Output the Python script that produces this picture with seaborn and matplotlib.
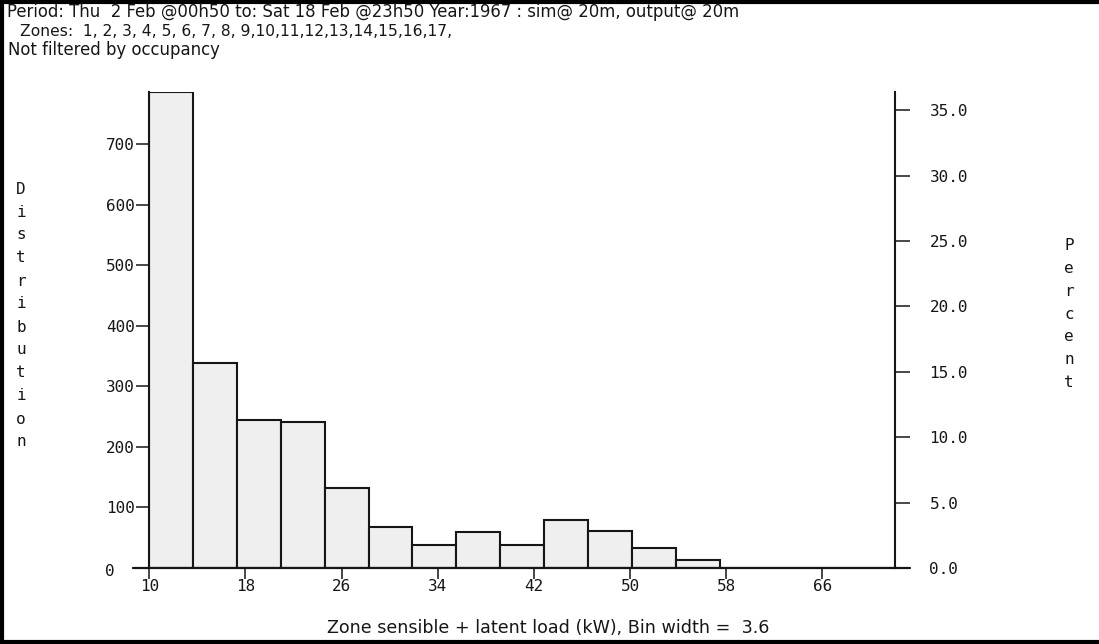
import numpy as np
import pandas as pd
import matplotlib
matplotlib.use("Agg")
import matplotlib.pyplot as plt
import seaborn as sns
from matplotlib.transforms import ScaledTranslation
from matplotlib.lines import Line2D

# ---------------- data ----------------
counts = [787, 339, 244, 241, 132, 67, 38, 59, 38, 79, 61, 33, 14, 0, 0, 0, 0]
bin_start = 10.0
bin_width = 3.65
bin_width_label = "3.6"
total_count = 2160
x_ticks = [10, 18, 26, 34, 42, 50, 58, 66]
y_ticks = [0, 100, 200, 300, 400, 500, 600, 700]
pct_ticks = [0, 5, 10, 15, 20, 25, 30, 35]
header_lines = [
    "Period: Thu  2 Feb @00h50 to: Sat 18 Feb @23h50 Year:1967 : sim@ 20m, output@ 20m",
    "Zones:  1, 2, 3, 4, 5, 6, 7, 8, 9,10,11,12,13,14,15,16,17,",
    "Not filtered by occupancy",
]
x_label = "Zone sensible + latent load (kW), Bin width =  " + bin_width_label
left_label = "Distribution"
right_label = "Percent"

# ---------------- style ----------------
sns.set_style("white")
plt.rcParams["font.family"] = ["DejaVu Sans Mono", "DejaVu Sans"]
FS = 11.5
INK = "#161616"
FILL = "#efefef"
SANS = ["DejaVu Sans"]

W, H = 1099, 644
fig = plt.figure(figsize=(W / 100, H / 100), dpi=100)
fig.patch.set_facecolor("white")

ax_l, ax_r, ax_b, ax_t = 149.3, 895.0, 568.0, 91.5
ax = fig.add_axes([ax_l / W, (H - ax_b) / H, (ax_r - ax_l) / W, (ax_b - ax_t) / H])

edges = [bin_start + bin_width * i for i in range(len(counts) + 1)]
mids = [(edges[i] + edges[i + 1]) / 2 for i in range(len(counts))]
df = pd.DataFrame({"load": mids, "count": counts})

sns.histplot(data=df, x="load", weights="count", bins=edges, stat="count",
             color=FILL, edgecolor=INK, linewidth=1.5, alpha=1, ax=ax)

ax.set_xlim(edges[0], edges[-1])
ax.set_ylim(0, max(counts))
ax.set_xlabel("")
ax.set_ylabel("")
ax.set_xticks(x_ticks)
ax.set_xticklabels([str(v) for v in x_ticks])
ax.set_yticks(y_ticks)
ax.set_yticklabels([str(v) for v in y_ticks])
for s in ["top", "right", "bottom"]:
    ax.spines[s].set_visible(False)
ax.spines["left"].set_color(INK)
ax.spines["left"].set_linewidth(1.5)
ax.axhline(0, xmin=-0.022, xmax=1.02, color=INK, lw=1.6, clip_on=False, zorder=6)
ax.tick_params(axis="y", direction="out", length=9.4, width=1.1, pad=1,
               labelsize=FS, colors=INK, left=True)
ax.tick_params(axis="x", direction="out", length=8.0, width=1.1, pad=0.0,
               labelsize=FS, colors=INK, bottom=True)
# shift the "0" label left/down like the reference
lab0 = ax.get_yticklabels()[0]
lab0.set_transform(lab0.get_transform() + ScaledTranslation(-0.2, -0.02, fig.dpi_scale_trans))

ax2 = ax.twinx()
ax2.set_ylim(0, max(counts) * 100 / total_count)
ax2.set_yticks(pct_ticks)
ax2.set_yticklabels([f"{v:.1f}" for v in pct_ticks])
for s in ["top", "left", "bottom"]:
    ax2.spines[s].set_visible(False)
ax2.spines["right"].set_color(INK)
ax2.spines["right"].set_linewidth(1.5)
ax2.tick_params(axis="y", direction="out", length=10.8, width=1.1, pad=14,
                labelsize=FS, colors=INK, right=True)
ax2.grid(False)
ax.grid(False)

# ---------------- texts ----------------
fig.text(7 / W, 1 - 12 / H, header_lines[0], ha="left", va="center", fontsize=11.9,
         color=INK, family=SANS)
fig.text(20 / W, 1 - 31 / H, header_lines[1], ha="left", va="center", fontsize=11.2,
         color=INK, family=SANS)
fig.text(8 / W, 1 - 50 / H, header_lines[2], ha="left", va="center", fontsize=11.9,
         color=INK, family=SANS)
fig.text(548 / W, 1 - 628 / H, x_label, ha="center", va="center", fontsize=12.6,
         color=INK, family=SANS)

for i, ch in enumerate(left_label):
    fig.text(21 / W, 1 - (189 + i * 23.0) / H, ch, ha="center", va="center",
             fontsize=FS, color=INK)
for i, ch in enumerate(right_label):
    fig.text(1069 / W, 1 - (246 + i * 22.7) / H, ch, ha="center", va="center",
             fontsize=FS, color=INK)

# ---------------- frame (left, top, bottom) ----------------
fig.add_artist(Line2D([2 / W, 2 / W], [0, 1], transform=fig.transFigure, color="black", lw=3))
fig.add_artist(Line2D([0, 1], [1 - 1.5 / H, 1 - 1.5 / H], transform=fig.transFigure, color="black", lw=3))
fig.add_artist(Line2D([0, 1], [2 / H, 2 / H], transform=fig.transFigure, color="black", lw=3))

fig.savefig("out.png", dpi=100, facecolor="white")
